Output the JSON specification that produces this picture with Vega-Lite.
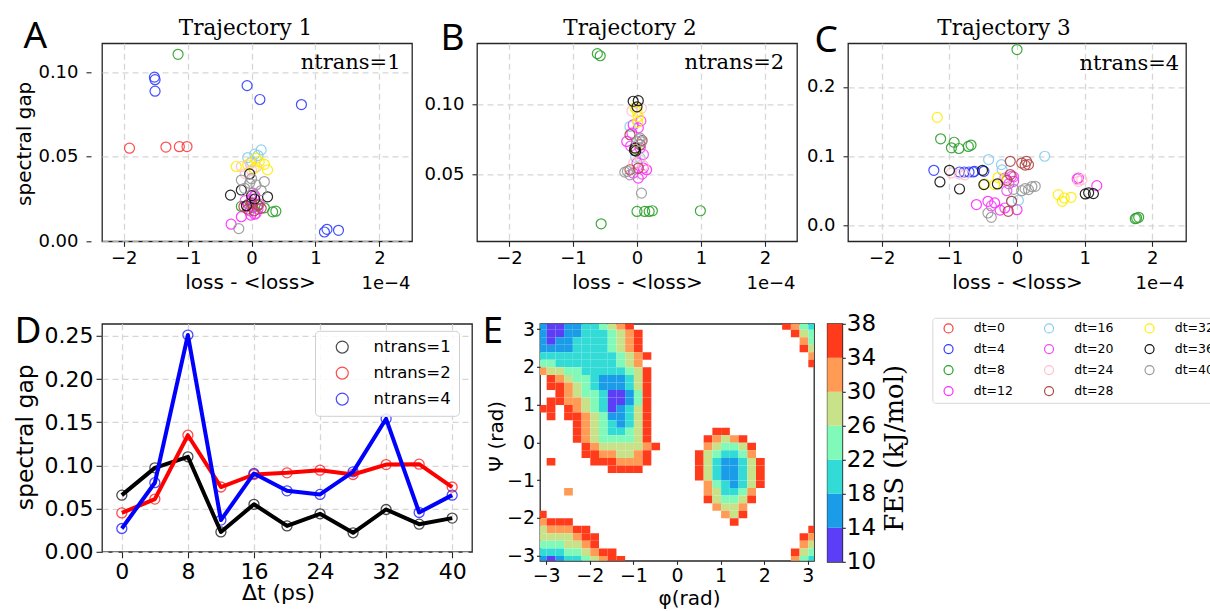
{
"$schema": "https://vega.github.io/schema/vega-lite/v6.json",
"background": "white",
"padding": {"left": 12, "top": 16.3, "right": 0, "bottom": 0},
"config": {
  "view": {"stroke": "#262626", "strokeWidth": 1.3},
  "font": "DejaVu Sans",
  "axis": {"domain": false, "labelFont": "DejaVu Sans", "titleFont": "DejaVu Sans", "titleFontWeight": "normal", "labelColor": "#000", "titleColor": "#000", "tickColor": "#262626", "tickWidth": 1.1, "gridColor": "#d6d6d6", "gridDash": [6, 4], "gridWidth": 1.3, "labelFlush": false, "labelOverlap": false, "labelFontSize": 18, "titleFontSize": 20, "tickSize": 5},
  "legend": {"titleFontWeight": "normal", "labelColor": "#000"}
},
"datasets": {
  "A": [
    {"x": -1.91, "y": 0.055, "dt": "dt=0"}, {"x": -1.34, "y": 0.0557, "dt": "dt=0"}, {"x": -1.13, "y": 0.0559, "dt": "dt=0"}, {"x": -1.01, "y": 0.056, "dt": "dt=0"},
    {"x": -1.52, "y": 0.097, "dt": "dt=4"}, {"x": -1.51, "y": 0.0955, "dt": "dt=4"}, {"x": -1.51, "y": 0.0887, "dt": "dt=4"}, {"x": -0.07, "y": 0.092, "dt": "dt=4"}, {"x": 0.13, "y": 0.0838, "dt": "dt=4"}, {"x": 0.78, "y": 0.0808, "dt": "dt=4"}, {"x": 1.14, "y": 0.0055, "dt": "dt=4"}, {"x": 1.18, "y": 0.0071, "dt": "dt=4"}, {"x": 1.36, "y": 0.0065, "dt": "dt=4"},
    {"x": -1.15, "y": 0.1105, "dt": "dt=8"}, {"x": 0.33, "y": 0.0174, "dt": "dt=8"}, {"x": 0.38, "y": 0.0178, "dt": "dt=8"}, {"x": 0.2, "y": 0.0198, "dt": "dt=8"}, {"x": -0.16, "y": 0.0206, "dt": "dt=8"}, {"x": 0.1, "y": 0.021, "dt": "dt=8"}, {"x": 0.02, "y": 0.02, "dt": "dt=8"},
    {"x": -0.32, "y": 0.0101, "dt": "dt=12"}, {"x": -0.16, "y": 0.0145, "dt": "dt=12"}, {"x": -0.01, "y": 0.0155, "dt": "dt=12"}, {"x": 0.05, "y": 0.016, "dt": "dt=12"}, {"x": 0.0, "y": 0.025, "dt": "dt=12"}, {"x": 0.05, "y": 0.027, "dt": "dt=12"}, {"x": -0.05, "y": 0.022, "dt": "dt=12"}, {"x": 0.1, "y": 0.019, "dt": "dt=12"},
    {"x": 0.15, "y": 0.054, "dt": "dt=16"}, {"x": -0.06, "y": 0.0495, "dt": "dt=16"}, {"x": 0.1, "y": 0.0507, "dt": "dt=16"}, {"x": 0.0, "y": 0.047, "dt": "dt=16"}, {"x": 0.05, "y": 0.0515, "dt": "dt=16"},
    {"x": 0.04, "y": 0.0265, "dt": "dt=20"}, {"x": 0.02, "y": 0.0285, "dt": "dt=20"}, {"x": -0.1, "y": 0.024, "dt": "dt=20"}, {"x": 0.12, "y": 0.022, "dt": "dt=20"}, {"x": 0.07, "y": 0.0165, "dt": "dt=20"}, {"x": -0.03, "y": 0.018, "dt": "dt=20"},
    {"x": -0.16, "y": 0.0442, "dt": "dt=24"}, {"x": -0.02, "y": 0.046, "dt": "dt=24"}, {"x": 0.0, "y": 0.042, "dt": "dt=24"}, {"x": 0.08, "y": 0.044, "dt": "dt=24"}, {"x": -0.1, "y": 0.04, "dt": "dt=24"},
    {"x": -0.06, "y": 0.019, "dt": "dt=28"}, {"x": 0.04, "y": 0.018, "dt": "dt=28"}, {"x": 0.1, "y": 0.0215, "dt": "dt=28"}, {"x": -0.12, "y": 0.0205, "dt": "dt=28"}, {"x": 0.15, "y": 0.0195, "dt": "dt=28"}, {"x": 0.0, "y": 0.0225, "dt": "dt=28"},
    {"x": -0.24, "y": 0.0442, "dt": "dt=32"}, {"x": -0.06, "y": 0.0452, "dt": "dt=32"}, {"x": 0.07, "y": 0.049, "dt": "dt=32"}, {"x": 0.2, "y": 0.0455, "dt": "dt=32"}, {"x": 0.25, "y": 0.0422, "dt": "dt=32"}, {"x": 0.04, "y": 0.0432, "dt": "dt=32"}, {"x": 0.12, "y": 0.047, "dt": "dt=32"},
    {"x": -0.33, "y": 0.0273, "dt": "dt=36"}, {"x": -0.16, "y": 0.0303, "dt": "dt=36"}, {"x": 0.25, "y": 0.0263, "dt": "dt=36"}, {"x": -0.03, "y": 0.0398, "dt": "dt=36"}, {"x": 0.0, "y": 0.027, "dt": "dt=36"}, {"x": 0.05, "y": 0.025, "dt": "dt=36"}, {"x": -0.08, "y": 0.021, "dt": "dt=36"},
    {"x": -0.2, "y": 0.0075, "dt": "dt=40"}, {"x": -0.16, "y": 0.0362, "dt": "dt=40"}, {"x": -0.03, "y": 0.0343, "dt": "dt=40"}, {"x": 0.2, "y": 0.0353, "dt": "dt=40"}, {"x": 0.07, "y": 0.0333, "dt": "dt=40"}, {"x": -0.11, "y": 0.0313, "dt": "dt=40"}, {"x": 0.15, "y": 0.03, "dt": "dt=40"}, {"x": 0.0, "y": 0.037, "dt": "dt=40"}
  ],
  "B": [
    {"x": -0.62, "y": 0.136, "dt": "dt=8"}, {"x": -0.575, "y": 0.1345, "dt": "dt=8"}, {"x": -0.56, "y": 0.0145, "dt": "dt=8"}, {"x": 0.0, "y": 0.0233, "dt": "dt=8"}, {"x": 0.12, "y": 0.0233, "dt": "dt=8"}, {"x": 0.19, "y": 0.0233, "dt": "dt=8"}, {"x": 0.24, "y": 0.0238, "dt": "dt=8"}, {"x": 0.99, "y": 0.0238, "dt": "dt=8"},
    {"x": -0.06, "y": 0.0852, "dt": "dt=12"}, {"x": 0.02, "y": 0.083, "dt": "dt=12"}, {"x": -0.08, "y": 0.0793, "dt": "dt=12"}, {"x": -0.16, "y": 0.0733, "dt": "dt=12"}, {"x": 0.05, "y": 0.0686, "dt": "dt=12"}, {"x": 0.1, "y": 0.0543, "dt": "dt=12"}, {"x": 0.02, "y": 0.0471, "dt": "dt=12"}, {"x": -0.06, "y": 0.0507, "dt": "dt=12"}, {"x": 0.15, "y": 0.0531, "dt": "dt=12"},
    {"x": -0.11, "y": 0.084, "dt": "dt=16"}, {"x": 0.05, "y": 0.0614, "dt": "dt=16"}, {"x": 0.03, "y": 0.075, "dt": "dt=16"}, {"x": -0.02, "y": 0.062, "dt": "dt=16"},
    {"x": 0.06, "y": 0.088, "dt": "dt=20"}, {"x": -0.1, "y": 0.07, "dt": "dt=20"}, {"x": 0.1, "y": 0.064, "dt": "dt=20"}, {"x": 0.0, "y": 0.058, "dt": "dt=20"}, {"x": 0.08, "y": 0.05, "dt": "dt=20"},
    {"x": -0.08, "y": 0.095, "dt": "dt=24"}, {"x": 0.07, "y": 0.097, "dt": "dt=24"}, {"x": 0.05, "y": 0.06, "dt": "dt=24"}, {"x": -0.05, "y": 0.058, "dt": "dt=24"}, {"x": 0.1, "y": 0.056, "dt": "dt=24"},
    {"x": -0.11, "y": 0.0781, "dt": "dt=28"}, {"x": 0.05, "y": 0.071, "dt": "dt=28"}, {"x": 0.02, "y": 0.0543, "dt": "dt=28"}, {"x": -0.11, "y": 0.0531, "dt": "dt=28"}, {"x": 0.08, "y": 0.074, "dt": "dt=28"},
    {"x": 0.0, "y": 0.0948, "dt": "dt=32"}, {"x": 0.02, "y": 0.091, "dt": "dt=32"}, {"x": -0.03, "y": 0.0975, "dt": "dt=32"}, {"x": 0.01, "y": 0.087, "dt": "dt=32"}, {"x": -0.02, "y": 0.068, "dt": "dt=32"},
    {"x": -0.06, "y": 0.102, "dt": "dt=36"}, {"x": 0.02, "y": 0.1024, "dt": "dt=36"}, {"x": -0.03, "y": 0.0686, "dt": "dt=36"}, {"x": -0.02, "y": 0.0664, "dt": "dt=36"}, {"x": 0.0, "y": 0.098, "dt": "dt=36"}, {"x": -0.04, "y": 0.067, "dt": "dt=36"},
    {"x": -0.19, "y": 0.0514, "dt": "dt=40"}, {"x": -0.11, "y": 0.0495, "dt": "dt=40"}, {"x": 0.05, "y": 0.0757, "dt": "dt=40"}, {"x": 0.07, "y": 0.073, "dt": "dt=40"}, {"x": 0.0, "y": 0.073, "dt": "dt=40"}, {"x": 0.07, "y": 0.0364, "dt": "dt=40"}, {"x": -0.15, "y": 0.052, "dt": "dt=40"}
  ],
  "C": [
    {"x": -1.23, "y": 0.0795, "dt": "dt=4"}, {"x": -0.85, "y": 0.077, "dt": "dt=4"}, {"x": -0.78, "y": 0.077, "dt": "dt=4"}, {"x": -0.71, "y": 0.077, "dt": "dt=4"}, {"x": -0.65, "y": 0.077, "dt": "dt=4"}, {"x": -0.63, "y": 0.078, "dt": "dt=4"}, {"x": -0.49, "y": 0.078, "dt": "dt=4"},
    {"x": 0.0, "y": 0.254, "dt": "dt=8"}, {"x": -1.13, "y": 0.125, "dt": "dt=8"}, {"x": -0.93, "y": 0.12, "dt": "dt=8"}, {"x": -0.97, "y": 0.112, "dt": "dt=8"}, {"x": -0.86, "y": 0.111, "dt": "dt=8"}, {"x": -0.72, "y": 0.114, "dt": "dt=8"}, {"x": -0.68, "y": 0.116, "dt": "dt=8"}, {"x": 1.75, "y": 0.0096, "dt": "dt=8"}, {"x": 1.8, "y": 0.0116, "dt": "dt=8"}, {"x": 1.77, "y": 0.0105, "dt": "dt=8"},
    {"x": -0.6, "y": 0.03, "dt": "dt=12"}, {"x": -0.43, "y": 0.0347, "dt": "dt=12"}, {"x": -0.33, "y": 0.0323, "dt": "dt=12"}, {"x": -0.18, "y": 0.025, "dt": "dt=12"}, {"x": 0.0, "y": 0.0226, "dt": "dt=12"}, {"x": -0.05, "y": 0.0636, "dt": "dt=12"}, {"x": 0.91, "y": 0.0684, "dt": "dt=12"}, {"x": 1.18, "y": 0.0573, "dt": "dt=12"}, {"x": -0.25, "y": 0.022, "dt": "dt=12"},
    {"x": -0.42, "y": 0.095, "dt": "dt=16"}, {"x": -0.23, "y": 0.0877, "dt": "dt=16"}, {"x": 0.41, "y": 0.0998, "dt": "dt=16"}, {"x": -0.22, "y": 0.08, "dt": "dt=16"}, {"x": -0.08, "y": 0.035, "dt": "dt=16"}, {"x": 0.02, "y": 0.036, "dt": "dt=16"},
    {"x": -0.18, "y": 0.0684, "dt": "dt=20"}, {"x": -0.08, "y": 0.0708, "dt": "dt=20"}, {"x": -0.12, "y": 0.06, "dt": "dt=20"}, {"x": -0.38, "y": 0.028, "dt": "dt=20"}, {"x": 0.89, "y": 0.067, "dt": "dt=20"}, {"x": -0.15, "y": 0.05, "dt": "dt=20"}, {"x": -0.05, "y": 0.07, "dt": "dt=20"},
    {"x": -0.97, "y": 0.0757, "dt": "dt=24"}, {"x": -0.85, "y": 0.074, "dt": "dt=24"}, {"x": -0.77, "y": 0.073, "dt": "dt=24"}, {"x": 0.91, "y": 0.0636, "dt": "dt=24"}, {"x": 0.96, "y": 0.066, "dt": "dt=24"}, {"x": -0.2, "y": 0.065, "dt": "dt=24"},
    {"x": -0.1, "y": 0.0925, "dt": "dt=28"}, {"x": 0.07, "y": 0.09, "dt": "dt=28"}, {"x": 0.14, "y": 0.0925, "dt": "dt=28"}, {"x": 0.17, "y": 0.0877, "dt": "dt=28"}, {"x": 0.12, "y": 0.087, "dt": "dt=28"}, {"x": -0.1, "y": 0.0733, "dt": "dt=28"}, {"x": -0.13, "y": 0.0202, "dt": "dt=28"}, {"x": -0.08, "y": 0.0347, "dt": "dt=28"}, {"x": -0.15, "y": 0.065, "dt": "dt=28"},
    {"x": -1.18, "y": 0.156, "dt": "dt=32"}, {"x": -0.33, "y": 0.0588, "dt": "dt=32"}, {"x": -0.48, "y": 0.0598, "dt": "dt=32"}, {"x": 0.61, "y": 0.0443, "dt": "dt=32"}, {"x": 0.67, "y": 0.0347, "dt": "dt=32"}, {"x": 0.8, "y": 0.0405, "dt": "dt=32"}, {"x": 0.7, "y": 0.0395, "dt": "dt=32"}, {"x": -0.28, "y": 0.069, "dt": "dt=32"},
    {"x": -1.0, "y": 0.0795, "dt": "dt=36"}, {"x": -1.14, "y": 0.0627, "dt": "dt=36"}, {"x": -0.85, "y": 0.0525, "dt": "dt=36"}, {"x": -0.51, "y": 0.0795, "dt": "dt=36"}, {"x": -0.49, "y": 0.0588, "dt": "dt=36"}, {"x": -0.29, "y": 0.0598, "dt": "dt=36"}, {"x": 1.01, "y": 0.0453, "dt": "dt=36"}, {"x": 1.06, "y": 0.047, "dt": "dt=36"}, {"x": 1.13, "y": 0.0458, "dt": "dt=36"},
    {"x": 0.07, "y": 0.05, "dt": "dt=40"}, {"x": 0.17, "y": 0.0516, "dt": "dt=40"}, {"x": 0.27, "y": 0.0564, "dt": "dt=40"}, {"x": 0.12, "y": 0.053, "dt": "dt=40"}, {"x": -0.05, "y": 0.052, "dt": "dt=40"}, {"x": -0.43, "y": 0.0178, "dt": "dt=40"}, {"x": -0.38, "y": 0.0116, "dt": "dt=40"}, {"x": 0.22, "y": 0.056, "dt": "dt=40"}
  ],
  "D": [
    {"t": 0, "g": 0.0656, "n": "ntrans=1"}, {"t": 4, "g": 0.0972, "n": "ntrans=1"}, {"t": 8, "g": 0.110, "n": "ntrans=1"}, {"t": 12, "g": 0.023, "n": "ntrans=1"}, {"t": 16, "g": 0.055, "n": "ntrans=1"}, {"t": 20, "g": 0.030, "n": "ntrans=1"}, {"t": 24, "g": 0.044, "n": "ntrans=1"}, {"t": 28, "g": 0.022, "n": "ntrans=1"}, {"t": 32, "g": 0.049, "n": "ntrans=1"}, {"t": 36, "g": 0.032, "n": "ntrans=1"}, {"t": 40, "g": 0.039, "n": "ntrans=1"},
    {"t": 0, "g": 0.045, "n": "ntrans=2"}, {"t": 4, "g": 0.061, "n": "ntrans=2"}, {"t": 8, "g": 0.135, "n": "ntrans=2"}, {"t": 12, "g": 0.075, "n": "ntrans=2"}, {"t": 16, "g": 0.0895, "n": "ntrans=2"}, {"t": 20, "g": 0.0914, "n": "ntrans=2"}, {"t": 24, "g": 0.0945, "n": "ntrans=2"}, {"t": 28, "g": 0.0895, "n": "ntrans=2"}, {"t": 32, "g": 0.101, "n": "ntrans=2"}, {"t": 36, "g": 0.1015, "n": "ntrans=2"}, {"t": 40, "g": 0.075, "n": "ntrans=2"},
    {"t": 0, "g": 0.027, "n": "ntrans=4"}, {"t": 4, "g": 0.080, "n": "ntrans=4"}, {"t": 8, "g": 0.251, "n": "ntrans=4"}, {"t": 12, "g": 0.0367, "n": "ntrans=4"}, {"t": 16, "g": 0.0907, "n": "ntrans=4"}, {"t": 20, "g": 0.0706, "n": "ntrans=4"}, {"t": 24, "g": 0.0664, "n": "ntrans=4"}, {"t": 28, "g": 0.0926, "n": "ntrans=4"}, {"t": 32, "g": 0.154, "n": "ntrans=4"}, {"t": 36, "g": 0.0455, "n": "ntrans=4"}, {"t": 40, "g": 0.0656, "n": "ntrans=4"}
  ],
  "L": [{"dt": "dt=0"}, {"dt": "dt=4"}, {"dt": "dt=8"}, {"dt": "dt=12"}, {"dt": "dt=16"}, {"dt": "dt=20"}, {"dt": "dt=24"}, {"dt": "dt=28"}, {"dt": "dt=32"}, {"dt": "dt=36"}, {"dt": "dt=40"}],
  "CB": [{"lo": 10, "hi": 14}, {"lo": 14, "hi": 18}, {"lo": 18, "hi": 22}, {"lo": 22, "hi": 26}, {"lo": 26, "hi": 30}, {"lo": 30, "hi": 34}, {"lo": 34, "hi": 38}],
  "E": [
    {"p": -3.1, "s": 3.1, "f": 16}, {"p": -2.9, "s": 3.1, "f": 12}, {"p": -2.7, "s": 3.1, "f": 12}, {"p": -2.5, "s": 3.1, "f": 16}, {"p": -2.3, "s": 3.1, "f": 16}, {"p": -2.1, "s": 3.1, "f": 20}, {"p": -1.9, "s": 3.1, "f": 20}, {"p": -1.7, "s": 3.1, "f": 24}, {"p": -1.5, "s": 3.1, "f": 28}, {"p": -1.3, "s": 3.1, "f": 32}, {"p": -1.1, "s": 3.1, "f": 36}, {"p": 2.5, "s": 3.1, "f": 36}, {"p": 2.7, "s": 3.1, "f": 32}, {"p": 2.9, "s": 3.1, "f": 24}, {"p": 3.1, "s": 3.1, "f": 20},
    {"p": -3.1, "s": 2.9, "f": 16}, {"p": -2.9, "s": 2.9, "f": 12}, {"p": -2.7, "s": 2.9, "f": 12}, {"p": -2.5, "s": 2.9, "f": 16}, {"p": -2.3, "s": 2.9, "f": 16}, {"p": -2.1, "s": 2.9, "f": 20}, {"p": -1.9, "s": 2.9, "f": 20}, {"p": -1.7, "s": 2.9, "f": 20}, {"p": -1.5, "s": 2.9, "f": 24}, {"p": -1.3, "s": 2.9, "f": 28}, {"p": -1.1, "s": 2.9, "f": 32}, {"p": -0.9, "s": 2.9, "f": 36}, {"p": 2.7, "s": 2.9, "f": 36}, {"p": 2.9, "s": 2.9, "f": 28}, {"p": 3.1, "s": 2.9, "f": 24},
    {"p": -3.1, "s": 2.7, "f": 16}, {"p": -2.9, "s": 2.7, "f": 12}, {"p": -2.7, "s": 2.7, "f": 16}, {"p": -2.5, "s": 2.7, "f": 16}, {"p": -2.3, "s": 2.7, "f": 20}, {"p": -2.1, "s": 2.7, "f": 20}, {"p": -1.9, "s": 2.7, "f": 20}, {"p": -1.7, "s": 2.7, "f": 20}, {"p": -1.5, "s": 2.7, "f": 24}, {"p": -1.3, "s": 2.7, "f": 28}, {"p": -1.1, "s": 2.7, "f": 32}, {"p": -0.9, "s": 2.7, "f": 36}, {"p": 2.9, "s": 2.7, "f": 32}, {"p": 3.1, "s": 2.7, "f": 24},
    {"p": -3.1, "s": 2.5, "f": 16}, {"p": -2.9, "s": 2.5, "f": 16}, {"p": -2.7, "s": 2.5, "f": 16}, {"p": -2.5, "s": 2.5, "f": 16}, {"p": -2.3, "s": 2.5, "f": 20}, {"p": -2.1, "s": 2.5, "f": 20}, {"p": -1.9, "s": 2.5, "f": 20}, {"p": -1.7, "s": 2.5, "f": 20}, {"p": -1.5, "s": 2.5, "f": 24}, {"p": -1.3, "s": 2.5, "f": 28}, {"p": -1.1, "s": 2.5, "f": 32}, {"p": -0.9, "s": 2.5, "f": 36}, {"p": 2.9, "s": 2.5, "f": 36}, {"p": 3.1, "s": 2.5, "f": 28},
    {"p": -3.1, "s": 2.3, "f": 20}, {"p": -2.9, "s": 2.3, "f": 20}, {"p": -2.7, "s": 2.3, "f": 20}, {"p": -2.5, "s": 2.3, "f": 20}, {"p": -2.3, "s": 2.3, "f": 20}, {"p": -2.1, "s": 2.3, "f": 20}, {"p": -1.9, "s": 2.3, "f": 20}, {"p": -1.7, "s": 2.3, "f": 20}, {"p": -1.5, "s": 2.3, "f": 20}, {"p": -1.3, "s": 2.3, "f": 24}, {"p": -1.1, "s": 2.3, "f": 28}, {"p": -0.9, "s": 2.3, "f": 32}, {"p": -0.7, "s": 2.3, "f": 36}, {"p": 3.1, "s": 2.3, "f": 32},
    {"p": -3.1, "s": 2.1, "f": 24}, {"p": -2.9, "s": 2.1, "f": 24}, {"p": -2.7, "s": 2.1, "f": 20}, {"p": -2.5, "s": 2.1, "f": 20}, {"p": -2.3, "s": 2.1, "f": 20}, {"p": -2.1, "s": 2.1, "f": 20}, {"p": -1.9, "s": 2.1, "f": 20}, {"p": -1.7, "s": 2.1, "f": 20}, {"p": -1.5, "s": 2.1, "f": 20}, {"p": -1.3, "s": 2.1, "f": 24}, {"p": -1.1, "s": 2.1, "f": 28}, {"p": -0.9, "s": 2.1, "f": 32}, {"p": 3.1, "s": 2.1, "f": 36},
    {"p": -3.1, "s": 1.9, "f": 32}, {"p": -2.9, "s": 1.9, "f": 28}, {"p": -2.7, "s": 1.9, "f": 28}, {"p": -2.5, "s": 1.9, "f": 24}, {"p": -2.3, "s": 1.9, "f": 24}, {"p": -2.1, "s": 1.9, "f": 20}, {"p": -1.9, "s": 1.9, "f": 20}, {"p": -1.7, "s": 1.9, "f": 20}, {"p": -1.5, "s": 1.9, "f": 20}, {"p": -1.3, "s": 1.9, "f": 20}, {"p": -1.1, "s": 1.9, "f": 24}, {"p": -0.9, "s": 1.9, "f": 28}, {"p": -0.7, "s": 1.9, "f": 36},
    {"p": -2.9, "s": 1.7, "f": 36}, {"p": -2.7, "s": 1.7, "f": 32}, {"p": -2.5, "s": 1.7, "f": 28}, {"p": -2.3, "s": 1.7, "f": 24}, {"p": -2.1, "s": 1.7, "f": 24}, {"p": -1.9, "s": 1.7, "f": 20}, {"p": -1.7, "s": 1.7, "f": 16}, {"p": -1.5, "s": 1.7, "f": 16}, {"p": -1.3, "s": 1.7, "f": 16}, {"p": -1.1, "s": 1.7, "f": 20}, {"p": -0.9, "s": 1.7, "f": 28}, {"p": -0.7, "s": 1.7, "f": 36},
    {"p": -2.9, "s": 1.5, "f": 36}, {"p": -2.7, "s": 1.5, "f": 36}, {"p": -2.5, "s": 1.5, "f": 32}, {"p": -2.3, "s": 1.5, "f": 28}, {"p": -2.1, "s": 1.5, "f": 24}, {"p": -1.9, "s": 1.5, "f": 20}, {"p": -1.7, "s": 1.5, "f": 16}, {"p": -1.5, "s": 1.5, "f": 16}, {"p": -1.3, "s": 1.5, "f": 16}, {"p": -1.1, "s": 1.5, "f": 20}, {"p": -0.9, "s": 1.5, "f": 28}, {"p": -0.7, "s": 1.5, "f": 36},
    {"p": -2.7, "s": 1.3, "f": 36}, {"p": -2.5, "s": 1.3, "f": 32}, {"p": -2.3, "s": 1.3, "f": 28}, {"p": -2.1, "s": 1.3, "f": 24}, {"p": -1.9, "s": 1.3, "f": 24}, {"p": -1.7, "s": 1.3, "f": 20}, {"p": -1.5, "s": 1.3, "f": 12}, {"p": -1.3, "s": 1.3, "f": 12}, {"p": -1.1, "s": 1.3, "f": 16}, {"p": -0.9, "s": 1.3, "f": 24}, {"p": -0.7, "s": 1.3, "f": 36},
    {"p": -2.9, "s": 1.1, "f": 36}, {"p": -2.7, "s": 1.1, "f": 36}, {"p": -2.5, "s": 1.1, "f": 32}, {"p": -2.3, "s": 1.1, "f": 32}, {"p": -2.1, "s": 1.1, "f": 28}, {"p": -1.9, "s": 1.1, "f": 24}, {"p": -1.7, "s": 1.1, "f": 20}, {"p": -1.5, "s": 1.1, "f": 12}, {"p": -1.3, "s": 1.1, "f": 12}, {"p": -1.1, "s": 1.1, "f": 16}, {"p": -0.9, "s": 1.1, "f": 24}, {"p": -0.7, "s": 1.1, "f": 36},
    {"p": -3.1, "s": 0.9, "f": 36}, {"p": -2.9, "s": 0.9, "f": 36}, {"p": -2.5, "s": 0.9, "f": 36}, {"p": -2.3, "s": 0.9, "f": 32}, {"p": -2.1, "s": 0.9, "f": 28}, {"p": -1.9, "s": 0.9, "f": 24}, {"p": -1.7, "s": 0.9, "f": 20}, {"p": -1.5, "s": 0.9, "f": 12}, {"p": -1.3, "s": 0.9, "f": 16}, {"p": -1.1, "s": 0.9, "f": 20}, {"p": -0.9, "s": 0.9, "f": 28}, {"p": -0.7, "s": 0.9, "f": 36},
    {"p": -2.9, "s": 0.7, "f": 36}, {"p": -2.5, "s": 0.7, "f": 36}, {"p": -2.3, "s": 0.7, "f": 36}, {"p": -2.1, "s": 0.7, "f": 32}, {"p": -1.9, "s": 0.7, "f": 28}, {"p": -1.7, "s": 0.7, "f": 24}, {"p": -1.5, "s": 0.7, "f": 16}, {"p": -1.3, "s": 0.7, "f": 16}, {"p": -1.1, "s": 0.7, "f": 20}, {"p": -0.9, "s": 0.7, "f": 28}, {"p": -0.7, "s": 0.7, "f": 36},
    {"p": -2.3, "s": 0.5, "f": 36}, {"p": -2.1, "s": 0.5, "f": 32}, {"p": -1.9, "s": 0.5, "f": 28}, {"p": -1.7, "s": 0.5, "f": 24}, {"p": -1.5, "s": 0.5, "f": 20}, {"p": -1.3, "s": 0.5, "f": 16}, {"p": -1.1, "s": 0.5, "f": 20}, {"p": -0.9, "s": 0.5, "f": 28}, {"p": -0.7, "s": 0.5, "f": 36},
    {"p": -2.3, "s": 0.3, "f": 36}, {"p": -2.1, "s": 0.3, "f": 32}, {"p": -1.9, "s": 0.3, "f": 28}, {"p": -1.7, "s": 0.3, "f": 24}, {"p": -1.5, "s": 0.3, "f": 20}, {"p": -1.3, "s": 0.3, "f": 20}, {"p": -1.1, "s": 0.3, "f": 24}, {"p": -0.9, "s": 0.3, "f": 28}, {"p": -0.7, "s": 0.3, "f": 36}, {"p": 0.9, "s": 0.3, "f": 36}, {"p": 1.1, "s": 0.3, "f": 36},
    {"p": -2.3, "s": 0.1, "f": 36}, {"p": -2.1, "s": 0.1, "f": 32}, {"p": -1.9, "s": 0.1, "f": 28}, {"p": -1.7, "s": 0.1, "f": 24}, {"p": -1.5, "s": 0.1, "f": 24}, {"p": -1.3, "s": 0.1, "f": 24}, {"p": -1.1, "s": 0.1, "f": 24}, {"p": -0.9, "s": 0.1, "f": 28}, {"p": -0.7, "s": 0.1, "f": 36}, {"p": 0.7, "s": 0.1, "f": 36}, {"p": 0.9, "s": 0.1, "f": 32}, {"p": 1.1, "s": 0.1, "f": 28}, {"p": 1.3, "s": 0.1, "f": 32}, {"p": 1.5, "s": 0.1, "f": 36},
    {"p": -2.1, "s": -0.1, "f": 36}, {"p": -1.9, "s": -0.1, "f": 32}, {"p": -1.7, "s": -0.1, "f": 28}, {"p": -1.5, "s": -0.1, "f": 28}, {"p": -1.3, "s": -0.1, "f": 28}, {"p": -1.1, "s": -0.1, "f": 28}, {"p": -0.9, "s": -0.1, "f": 28}, {"p": -0.7, "s": -0.1, "f": 32}, {"p": -0.5, "s": -0.1, "f": 36}, {"p": 0.7, "s": -0.1, "f": 32}, {"p": 0.9, "s": -0.1, "f": 28}, {"p": 1.1, "s": -0.1, "f": 24}, {"p": 1.3, "s": -0.1, "f": 24}, {"p": 1.5, "s": -0.1, "f": 28}, {"p": 1.7, "s": -0.1, "f": 36},
    {"p": -2.1, "s": -0.3, "f": 36}, {"p": -1.9, "s": -0.3, "f": 36}, {"p": -1.7, "s": -0.3, "f": 32}, {"p": -1.5, "s": -0.3, "f": 32}, {"p": -1.3, "s": -0.3, "f": 28}, {"p": -1.1, "s": -0.3, "f": 28}, {"p": -0.9, "s": -0.3, "f": 32}, {"p": -0.7, "s": -0.3, "f": 36}, {"p": 0.5, "s": -0.3, "f": 36}, {"p": 0.7, "s": -0.3, "f": 28}, {"p": 0.9, "s": -0.3, "f": 24}, {"p": 1.1, "s": -0.3, "f": 20}, {"p": 1.3, "s": -0.3, "f": 20}, {"p": 1.5, "s": -0.3, "f": 24}, {"p": 1.7, "s": -0.3, "f": 32},
    {"p": -2.9, "s": -0.5, "f": 36}, {"p": -1.9, "s": -0.5, "f": 36}, {"p": -1.7, "s": -0.5, "f": 36}, {"p": -1.5, "s": -0.5, "f": 36}, {"p": -1.3, "s": -0.5, "f": 32}, {"p": -1.1, "s": -0.5, "f": 32}, {"p": -0.9, "s": -0.5, "f": 32}, {"p": -0.7, "s": -0.5, "f": 36}, {"p": 0.5, "s": -0.5, "f": 36}, {"p": 0.7, "s": -0.5, "f": 28}, {"p": 0.9, "s": -0.5, "f": 20}, {"p": 1.1, "s": -0.5, "f": 16}, {"p": 1.3, "s": -0.5, "f": 16}, {"p": 1.5, "s": -0.5, "f": 20}, {"p": 1.7, "s": -0.5, "f": 28}, {"p": 1.9, "s": -0.5, "f": 36},
    {"p": -1.5, "s": -0.7, "f": 36}, {"p": -1.3, "s": -0.7, "f": 36}, {"p": -1.1, "s": -0.7, "f": 36}, {"p": -0.9, "s": -0.7, "f": 36}, {"p": 0.5, "s": -0.7, "f": 36}, {"p": 0.7, "s": -0.7, "f": 28}, {"p": 0.9, "s": -0.7, "f": 20}, {"p": 1.1, "s": -0.7, "f": 16}, {"p": 1.3, "s": -0.7, "f": 16}, {"p": 1.5, "s": -0.7, "f": 20}, {"p": 1.7, "s": -0.7, "f": 28}, {"p": 1.9, "s": -0.7, "f": 36},
    {"p": 0.5, "s": -0.9, "f": 36}, {"p": 0.7, "s": -0.9, "f": 28}, {"p": 0.9, "s": -0.9, "f": 20}, {"p": 1.1, "s": -0.9, "f": 16}, {"p": 1.3, "s": -0.9, "f": 16}, {"p": 1.5, "s": -0.9, "f": 20}, {"p": 1.7, "s": -0.9, "f": 28}, {"p": 1.9, "s": -0.9, "f": 36},
    {"p": 0.7, "s": -1.1, "f": 32}, {"p": 0.9, "s": -1.1, "f": 24}, {"p": 1.1, "s": -1.1, "f": 20}, {"p": 1.3, "s": -1.1, "f": 16}, {"p": 1.5, "s": -1.1, "f": 20}, {"p": 1.7, "s": -1.1, "f": 28}, {"p": 1.9, "s": -1.1, "f": 36},
    {"p": -2.5, "s": -1.3, "f": 32}, {"p": 0.7, "s": -1.3, "f": 32}, {"p": 0.9, "s": -1.3, "f": 28}, {"p": 1.1, "s": -1.3, "f": 20}, {"p": 1.3, "s": -1.3, "f": 20}, {"p": 1.5, "s": -1.3, "f": 24}, {"p": 1.7, "s": -1.3, "f": 32},
    {"p": 0.7, "s": -1.5, "f": 36}, {"p": 0.9, "s": -1.5, "f": 28}, {"p": 1.1, "s": -1.5, "f": 24}, {"p": 1.3, "s": -1.5, "f": 24}, {"p": 1.5, "s": -1.5, "f": 28}, {"p": 1.7, "s": -1.5, "f": 36},
    {"p": 0.9, "s": -1.7, "f": 32}, {"p": 1.1, "s": -1.7, "f": 28}, {"p": 1.3, "s": -1.7, "f": 28}, {"p": 1.5, "s": -1.7, "f": 32},
    {"p": -3.1, "s": -1.9, "f": 36}, {"p": 1.1, "s": -1.9, "f": 32}, {"p": 1.3, "s": -1.9, "f": 28}, {"p": 1.5, "s": -1.9, "f": 36},
    {"p": -3.1, "s": -2.1, "f": 32}, {"p": -2.9, "s": -2.1, "f": 36}, {"p": -2.7, "s": -2.1, "f": 36}, {"p": -2.5, "s": -2.1, "f": 36}, {"p": 1.3, "s": -2.1, "f": 36},
    {"p": -3.1, "s": -2.3, "f": 28}, {"p": -2.9, "s": -2.3, "f": 32}, {"p": -2.7, "s": -2.3, "f": 32}, {"p": -2.5, "s": -2.3, "f": 32}, {"p": -2.3, "s": -2.3, "f": 36}, {"p": -2.1, "s": -2.3, "f": 36}, {"p": 3.1, "s": -2.3, "f": 36},
    {"p": -3.1, "s": -2.5, "f": 28}, {"p": -2.9, "s": -2.5, "f": 28}, {"p": -2.7, "s": -2.5, "f": 28}, {"p": -2.5, "s": -2.5, "f": 28}, {"p": -2.3, "s": -2.5, "f": 32}, {"p": -2.1, "s": -2.5, "f": 36}, {"p": -1.9, "s": -2.5, "f": 36}, {"p": 2.9, "s": -2.5, "f": 36}, {"p": 3.1, "s": -2.5, "f": 32},
    {"p": -3.1, "s": -2.7, "f": 24}, {"p": -2.9, "s": -2.7, "f": 24}, {"p": -2.7, "s": -2.7, "f": 24}, {"p": -2.5, "s": -2.7, "f": 28}, {"p": -2.3, "s": -2.7, "f": 28}, {"p": -2.1, "s": -2.7, "f": 32}, {"p": -1.9, "s": -2.7, "f": 36}, {"p": 2.9, "s": -2.7, "f": 32}, {"p": 3.1, "s": -2.7, "f": 28},
    {"p": -3.1, "s": -2.9, "f": 20}, {"p": -2.9, "s": -2.9, "f": 20}, {"p": -2.7, "s": -2.9, "f": 20}, {"p": -2.5, "s": -2.9, "f": 24}, {"p": -2.3, "s": -2.9, "f": 24}, {"p": -2.1, "s": -2.9, "f": 28}, {"p": -1.9, "s": -2.9, "f": 32}, {"p": -1.7, "s": -2.9, "f": 36}, {"p": -1.5, "s": -2.9, "f": 36}, {"p": 2.7, "s": -2.9, "f": 36}, {"p": 2.9, "s": -2.9, "f": 28}, {"p": 3.1, "s": -2.9, "f": 24},
    {"p": -3.1, "s": -3.1, "f": 16}, {"p": -2.9, "s": -3.1, "f": 12}, {"p": -2.7, "s": -3.1, "f": 16}, {"p": -2.5, "s": -3.1, "f": 20}, {"p": -2.3, "s": -3.1, "f": 20}, {"p": -2.1, "s": -3.1, "f": 24}, {"p": -1.9, "s": -3.1, "f": 28}, {"p": -1.7, "s": -3.1, "f": 32}, {"p": -1.5, "s": -3.1, "f": 36}, {"p": -1.3, "s": -3.1, "f": 36}, {"p": 2.7, "s": -3.1, "f": 32}, {"p": 2.9, "s": -3.1, "f": 24}, {"p": 3.1, "s": -3.1, "f": 20}
  ]
},
"vconcat": [
  {
    "hconcat": [
      {
        "width": 310, "height": 198,
        "layer": [
          {"data": {"name": "A"},
           "mark": {"type": "point", "shape": "circle", "filled": false, "size": 100, "strokeWidth": 1.2, "opacity": 0.9},
           "encoding": {
             "x": {"field": "x", "type": "quantitative", "scale": {"domain": [-2.34, 2.51], "nice": false, "zero": false},
                   "axis": {"values": [-2, -1, 0, 1, 2], "format": "d", "title": "loss - <loss>", "titleX": 148, "titleY": 47, "titleAlign": "center", "titleBaseline": "alphabetic", "labelPadding": 3}},
             "y": {"field": "y", "type": "quantitative", "scale": {"domain": [0, 0.117], "nice": false, "zero": false},
                   "axis": {"values": [0, 0.05, 0.1], "format": ".2f", "offset": 11, "title": "spectral gap", "titleX": -61, "titleY": 100, "titleAngle": 270, "titleAlign": "center", "titleBaseline": "alphabetic", "labelPadding": 8}},
             "color": {"field": "dt", "type": "nominal", "scale": {"domain": ["dt=0", "dt=4", "dt=8", "dt=12", "dt=16", "dt=20", "dt=24", "dt=28", "dt=32", "dt=36", "dt=40"], "range": ["#ff3c3c", "#2f3dff", "#2ca02c", "#ff2bff", "#87ceeb", "#f24cf2", "#ffc0cb", "#b04646", "#ffee00", "#111111", "#999999"]}, "legend": null}
           }},
          {"data": {"values": [{"x": 2.33, "y": 0.102, "t": "ntrans=1"}]},
           "mark": {"type": "text", "align": "right", "baseline": "alphabetic", "font": "DejaVu Serif", "fontSize": 21, "color": "#000"},
           "encoding": {
             "x": {"field": "x", "type": "quantitative", "scale": {"domain": [-2.34, 2.51], "nice": false, "zero": false},
                   "axis": {"orient": "bottom", "labels": false, "ticks": false, "grid": false, "title": "1e−4", "titleX": 308, "titleY": 47, "titleAlign": "right", "titleBaseline": "alphabetic", "titleFontSize": 18}},
             "y": {"field": "y", "type": "quantitative", "scale": {"domain": [0, 0.117], "nice": false, "zero": false},
                   "axis": {"orient": "left", "labels": false, "ticks": false, "grid": false, "title": "A", "titleAngle": 0, "titleAlign": "left", "titleBaseline": "alphabetic", "titleX": -79, "titleY": 4.7, "titleFont": "Noto Sans", "titleFontSize": 37}},
             "text": {"field": "t"}
           }},
          {"data": {"values": [{"x": 0}]},
           "mark": {"type": "point", "opacity": 0},
           "encoding": {
             "x": {"field": "x", "type": "quantitative", "scale": {"domain": [-2.5, 2.5], "nice": false, "zero": false},
                   "axis": {"orient": "top", "labels": false, "ticks": false, "grid": false, "title": "Trajectory 1", "titleX": 143, "titleY": -8.7, "titleAlign": "center", "titleBaseline": "alphabetic", "titleAngle": 0, "titleFont": "DejaVu Serif", "titleFontSize": 21.5}}
           }}
        ],
        "resolve": {"scale": {"x": "independent", "y": "independent"}}
      },
      {
        "hconcat": [
          {
            "width": 320, "height": 198,
            "layer": [
              {"data": {"name": "B"},
               "mark": {"type": "point", "shape": "circle", "filled": false, "size": 100, "strokeWidth": 1.2, "opacity": 0.9},
               "encoding": {
                 "x": {"field": "x", "type": "quantitative", "scale": {"domain": [-2.5, 2.5], "nice": false, "zero": false},
                       "axis": {"values": [-2, -1, 0, 1, 2], "format": "d", "title": "loss - <loss>", "titleY": 47, "titleBaseline": "alphabetic", "labelPadding": 3}},
                 "y": {"field": "y", "type": "quantitative", "scale": {"domain": [0.002, 0.1434], "nice": false, "zero": false},
                       "axis": {"values": [0.05, 0.1], "format": ".2f", "title": null, "labelPadding": 8}},
                 "color": {"field": "dt", "type": "nominal", "scale": {"domain": ["dt=0", "dt=4", "dt=8", "dt=12", "dt=16", "dt=20", "dt=24", "dt=28", "dt=32", "dt=36", "dt=40"], "range": ["#ff3c3c", "#2f3dff", "#2ca02c", "#ff2bff", "#87ceeb", "#f24cf2", "#ffc0cb", "#b04646", "#ffee00", "#111111", "#999999"]}, "legend": null}
               }},
              {"data": {"values": [{"x": 2.3, "y": 0.125, "t": "ntrans=2"}]},
               "mark": {"type": "text", "align": "right", "baseline": "alphabetic", "font": "DejaVu Serif", "fontSize": 21, "color": "#000"},
               "encoding": {
                 "x": {"field": "x", "type": "quantitative", "scale": {"domain": [-2.5, 2.5], "nice": false, "zero": false},
                       "axis": {"orient": "bottom", "labels": false, "ticks": false, "grid": false, "title": "1e−4", "titleX": 318, "titleY": 47, "titleAlign": "right", "titleBaseline": "alphabetic", "titleFontSize": 18}},
                 "y": {"field": "y", "type": "quantitative", "scale": {"domain": [0.002, 0.1434], "nice": false, "zero": false},
                       "axis": {"orient": "left", "labels": false, "ticks": false, "grid": false, "title": "B", "titleAngle": 0, "titleAlign": "left", "titleBaseline": "alphabetic", "titleX": -37, "titleY": 6.3, "titleFont": "Noto Sans", "titleFontSize": 37}},
                 "text": {"field": "t"}
               }},
              {"data": {"values": [{"x": 0}]},
               "mark": {"type": "point", "opacity": 0},
               "encoding": {
                 "x": {"field": "x", "type": "quantitative", "scale": {"domain": [-2.5, 2.5], "nice": false, "zero": false},
                       "axis": {"orient": "top", "labels": false, "ticks": false, "grid": false, "title": "Trajectory 2", "titleX": 152.5, "titleY": -8.7, "titleAlign": "center", "titleBaseline": "alphabetic", "titleAngle": 0, "titleFont": "DejaVu Serif", "titleFontSize": 21.5}}
               }}
            ],
            "resolve": {"scale": {"x": "independent", "y": "independent"}}
          },
          {
            "width": 338, "height": 198,
            "layer": [
              {"data": {"name": "C"},
               "mark": {"type": "point", "shape": "circle", "filled": false, "size": 100, "strokeWidth": 1.2, "opacity": 0.9},
               "encoding": {
                 "x": {"field": "x", "type": "quantitative", "scale": {"domain": [-2.5, 2.5], "nice": false, "zero": false},
                       "axis": {"values": [-2, -1, 0, 1, 2], "format": "d", "title": "loss - <loss>", "titleY": 47, "titleBaseline": "alphabetic", "labelPadding": 3}},
                 "y": {"field": "y", "type": "quantitative", "scale": {"domain": [-0.0231, 0.263], "nice": false, "zero": false},
                       "axis": {"values": [0, 0.1, 0.2], "format": ".1f", "title": null, "labelPadding": 8}},
                 "color": {"field": "dt", "type": "nominal", "scale": {"domain": ["dt=0", "dt=4", "dt=8", "dt=12", "dt=16", "dt=20", "dt=24", "dt=28", "dt=32", "dt=36", "dt=40"], "range": ["#ff3c3c", "#2f3dff", "#2ca02c", "#ff2bff", "#87ceeb", "#f24cf2", "#ffc0cb", "#b04646", "#ffee00", "#111111", "#999999"]}, "legend": null}
               }},
              {"data": {"values": [{"x": 2.4, "y": 0.225, "t": "ntrans=4"}]},
               "mark": {"type": "text", "align": "right", "baseline": "alphabetic", "font": "DejaVu Serif", "fontSize": 21, "color": "#000"},
               "encoding": {
                 "x": {"field": "x", "type": "quantitative", "scale": {"domain": [-2.5, 2.5], "nice": false, "zero": false},
                       "axis": {"orient": "bottom", "labels": false, "ticks": false, "grid": false, "title": "1e−4", "titleX": 336, "titleY": 47, "titleAlign": "right", "titleBaseline": "alphabetic", "titleFontSize": 18}},
                 "y": {"field": "y", "type": "quantitative", "scale": {"domain": [-0.0231, 0.263], "nice": false, "zero": false},
                       "axis": {"orient": "left", "labels": false, "ticks": false, "grid": false, "title": "C", "titleAngle": 0, "titleAlign": "left", "titleBaseline": "alphabetic", "titleX": -34, "titleY": 8, "titleFont": "Noto Sans", "titleFontSize": 37}},
                 "text": {"field": "t"}
               }},
              {"data": {"values": [{"x": 0}]},
               "mark": {"type": "point", "opacity": 0},
               "encoding": {
                 "x": {"field": "x", "type": "quantitative", "scale": {"domain": [-2.5, 2.5], "nice": false, "zero": false},
                       "axis": {"orient": "top", "labels": false, "ticks": false, "grid": false, "title": "Trajectory 3", "titleX": 155.5, "titleY": -8.7, "titleAlign": "center", "titleBaseline": "alphabetic", "titleAngle": 0, "titleFont": "DejaVu Serif", "titleFontSize": 21.5}}
               }}
            ],
            "resolve": {"scale": {"x": "independent", "y": "independent"}}
          }
        ],
        "spacing": 7,
        "resolve": {"scale": {"color": "independent"}}
      }
    ],
    "spacing": 10,
    "resolve": {"scale": {"color": "independent"}}
  },
  {
    "hconcat": [
      {
        "width": 370, "height": 228,
        "layer": [
          {"data": {"name": "D"},
           "layer": [
            {"mark": {"type": "point", "shape": "circle", "filled": false, "size": 100, "strokeWidth": 1.3},
             "encoding": {
               "x": {"field": "t", "type": "quantitative", "scale": {"domain": [-2.4, 42.4], "nice": false, "zero": false},
                     "axis": {"values": [0, 8, 16, 24, 32, 40], "format": "d", "title": "Δt (ps)", "titleX": 176, "titleY": 48, "titleAlign": "center", "titleBaseline": "alphabetic", "labelFontSize": 22, "titleFontSize": 22, "tickSize": 6, "labelPadding": 4}},
               "y": {"field": "g", "type": "quantitative", "scale": {"domain": [0, 0.264], "nice": false, "zero": false},
                     "axis": {"values": [0, 0.05, 0.1, 0.15, 0.2, 0.25], "format": ".2f", "title": "spectral gap", "titleX": -70, "titleY": 113, "titleAngle": 270, "titleAlign": "center", "titleBaseline": "alphabetic", "titleFontSize": 23.5, "labelFontSize": 22, "tickSize": 6, "labelPadding": 3}},
               "color": {"field": "n", "type": "nominal", "scale": {"domain": ["ntrans=1", "ntrans=2", "ntrans=4"], "range": ["#000000", "#ff0000", "#0000ff"]},
                         "legend": {"orient": "none", "legendX": 213, "legendY": 7, "title": null, "symbolType": "circle", "symbolSize": 144, "symbolStrokeWidth": 1.2, "labelFontSize": 16.5, "labelFont": "DejaVu Sans", "labelOffset": 23, "symbolOffset": 11, "padding": 8, "rowPadding": 8, "strokeColor": "#d0d0d0", "cornerRadius": 4, "fillColor": "rgba(255,255,255,0.85)"}}
             }},
            {"mark": {"type": "line", "strokeWidth": 4, "strokeJoin": "round"},
             "encoding": {
               "x": {"field": "t", "type": "quantitative"},
               "y": {"field": "g", "type": "quantitative"},
               "color": {"field": "n", "type": "nominal", "legend": null}
             }}
           ]},
          {"data": {"values": [{"x": 0}]},
           "mark": {"type": "point", "opacity": 0},
           "encoding": {
             "x": {"field": "x", "type": "quantitative", "scale": {"domain": [-1, 1]},
                   "axis": {"orient": "top", "labels": false, "ticks": false, "grid": false, "title": "D", "titleX": -88, "titleY": 19.2, "titleAlign": "left", "titleBaseline": "alphabetic", "titleAngle": 0, "titleFont": "Noto Sans", "titleFontSize": 37}}
           }}
        ],
        "resolve": {"scale": {"x": "independent"}}
      },
      {
        "hconcat": [
          {
            "width": 274, "height": 237,
            "layer": [
              {"data": {"name": "E"},
               "mark": {"type": "rect", "clip": true},
               "encoding": {
                 "x": {"field": "p", "type": "quantitative", "bin": {"extent": [-3.2, 3.2], "step": 0.2, "nice": false}, "scale": {"domain": [-3.1416, 3.1416], "nice": false, "zero": false},
                       "axis": {"values": [-3, -2, -1, 0, 1, 2, 3], "format": "d", "title": "φ(rad)", "titleX": 149, "titleY": 44, "titleAlign": "center", "titleBaseline": "alphabetic", "labelFontSize": 19, "titleFontSize": 20, "tickSize": 3.5, "labelPadding": 2, "grid": false}},
                 "y": {"field": "s", "type": "quantitative", "bin": {"extent": [-3.2, 3.2], "step": 0.2, "nice": false}, "scale": {"domain": [-3.1416, 3.1416], "nice": false, "zero": false},
                       "axis": {"values": [-3, -2, -1, 0, 1, 2, 3], "format": "d", "title": "Ψ (rad)", "titleX": -38, "titleY": 112, "titleAngle": 270, "titleAlign": "center", "titleBaseline": "alphabetic", "labelFontSize": 19, "titleFontSize": 20, "tickSize": 3.5, "labelPadding": 2, "grid": false}},
                 "color": {"field": "f", "type": "quantitative", "scale": {"type": "quantize", "domain": [10, 38], "nice": false, "range": ["#5b3ef6", "#1a9ce9", "#33dbd6", "#80f9b9", "#c8e28a", "#ff9b55", "#ff3b1c"]}, "legend": null}
               }},
              {"data": {"values": [{"x": 0}]},
               "mark": {"type": "point", "opacity": 0},
               "encoding": {
                 "x": {"field": "x", "type": "quantitative", "scale": {"domain": [-1, 1]},
                       "axis": {"orient": "top", "labels": false, "ticks": false, "grid": false, "title": "E", "titleX": -58, "titleY": 19.2, "titleAlign": "left", "titleBaseline": "alphabetic", "titleAngle": 0, "titleFont": "Noto Sans", "titleFontSize": 37}}
               }}
            ],
            "resolve": {"scale": {"x": "independent"}}
          },
          {
            "width": 15, "height": 238,
            "layer": [
              {"data": {"name": "CB"},
               "mark": {"type": "rect"},
               "encoding": {
                 "y": {"field": "lo", "type": "quantitative", "scale": {"domain": [10, 38], "nice": false, "zero": false},
                       "axis": {"orient": "right", "values": [10, 14, 18, 22, 26, 30, 34, 38], "format": "d", "labelFontSize": 23, "tickSize": 3, "labelPadding": 1, "grid": false, "title": "FES (kJ/mol)", "titleFont": "DejaVu Serif", "titleFontSize": 26, "titleAngle": 270, "titleAlign": "center", "titleBaseline": "alphabetic", "titleX": 60, "titleY": 124}},
                 "y2": {"field": "hi"},
                 "color": {"field": "lo", "type": "quantitative", "scale": {"type": "quantize", "domain": [10, 38], "nice": false, "range": ["#5b3ef6", "#1a9ce9", "#33dbd6", "#80f9b9", "#c8e28a", "#ff9b55", "#ff3b1c"]}, "legend": null}
               }},
              {"data": {"name": "L"},
               "mark": {"type": "point", "shape": "circle", "filled": false, "opacity": 0, "size": 81},
               "encoding": {
                 "stroke": {"field": "dt", "type": "nominal", "scale": {"domain": ["dt=0", "dt=4", "dt=8", "dt=12", "dt=16", "dt=20", "dt=24", "dt=28", "dt=32", "dt=36", "dt=40"], "range": ["#ff3c3c", "#2f3dff", "#2ca02c", "#ff2bff", "#87ceeb", "#f24cf2", "#ffc0cb", "#b04646", "#ffee00", "#111111", "#999999"]},
                            "legend": {"orient": "none", "legendX": 105, "legendY": -6, "columns": 3, "title": null, "symbolType": "circle", "symbolSize": 81, "symbolStrokeWidth": 1.2, "symbolOpacity": 1, "labelFontSize": 12.5, "labelFont": "DejaVu Sans", "labelOffset": 19, "symbolOffset": 6, "columnPadding": 23.5, "rowPadding": 6, "padding": 4, "strokeColor": "#d9d9d9", "cornerRadius": 3, "fillColor": "#ffffff", "encode": {"symbols": {"update": {"opacity": {"value": 1}}}}}}
               }}
            ],
            "resolve": {"scale": {"color": "independent", "stroke": "independent"}}
          }
        ],
        "spacing": 11.3,
        "resolve": {"scale": {"color": "independent", "stroke": "independent"}, "legend": {"color": "independent", "stroke": "independent"}}
      }
    ],
    "spacing": 8,
    "resolve": {"scale": {"color": "independent", "stroke": "independent"}, "legend": {"color": "independent", "stroke": "independent"}}
  }
],
"spacing": 18.5,
"resolve": {"scale": {"color": "independent", "stroke": "independent"}, "legend": {"color": "independent", "stroke": "independent"}}
}
